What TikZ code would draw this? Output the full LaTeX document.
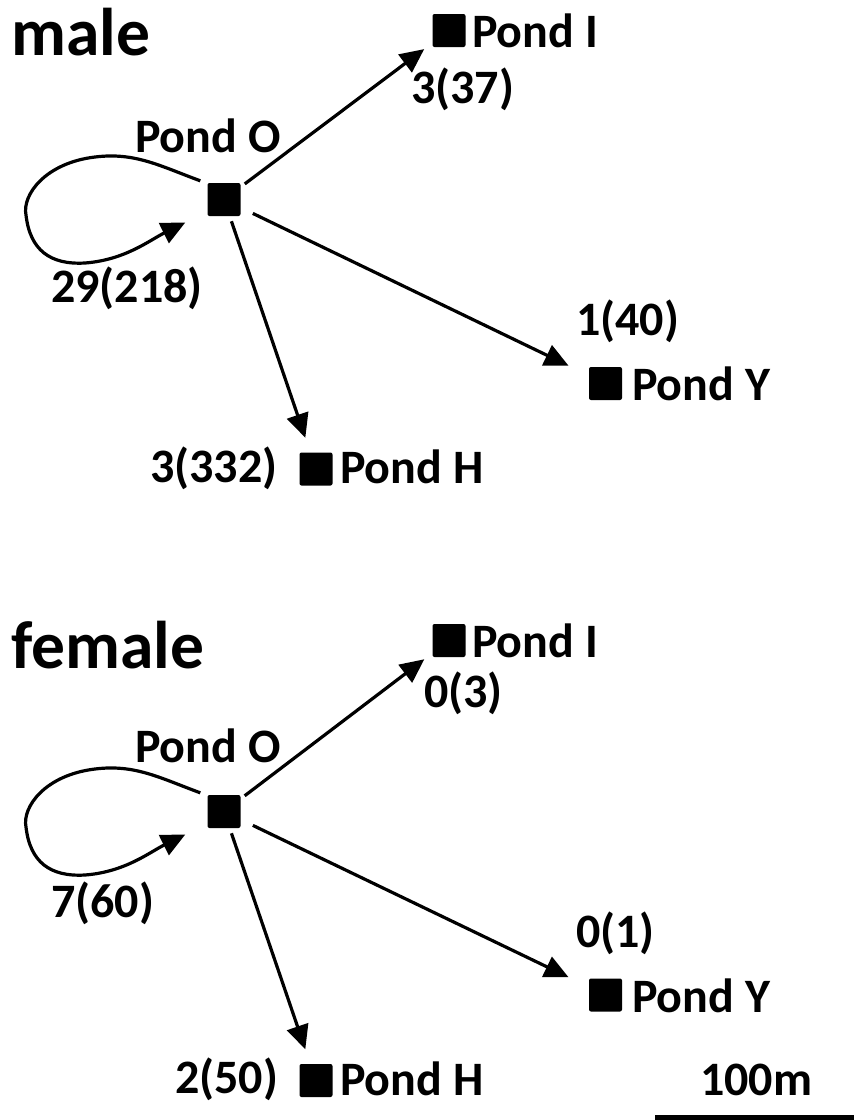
\documentclass[tikz,border=0pt]{standalone}
\usepackage{fontspec}
\setmainfont{Carlito}
\usetikzlibrary{arrows.meta}
\begin{document}
\begin{tikzpicture}[x=1pt,y=-1pt,
  pondbox/.style={fill=black, rounded corners=2pt, minimum size=33pt, inner sep=0pt},
  lbl/.style={anchor=base west, inner sep=0pt, font=\fontsize{48}{52}\selectfont\bfseries},
  grouptitle/.style={anchor=base west, inner sep=0pt, font=\fontsize{67.5}{72}\selectfont\bfseries},
  arr/.style={line width=3.2pt, -{Triangle[length=24pt,width=22pt]}},
  loopline/.style={line width=3.2pt, -{Triangle[length=24pt,width=22pt]}}]
\useasboundingbox (0,0) rectangle (854,1120);

% ---------------- male ----------------
\begin{scope}
  \node[grouptitle] (mT) at (11,55) {male};
  \node[pondbox] (mO) at (224,199.5) {};
  \node[pondbox] (mI) at (449,30.5) {};
  \node[pondbox] (mY) at (605.5,383.5) {};
  \node[pondbox] (mH) at (316,469) {};
  \node[lbl] (mOl) at (135,152) {Pond O};
  \node[lbl] (mIl) at (472,47) {Pond I};
  \node[lbl] (mYl) at (632,400) {Pond Y};
  \node[lbl] (mHl) at (340,483) {Pond H};
  \node[lbl] (mIn) at (411,103) {3(37)};
  \node[lbl] (mYn) at (576,335) {1(40)};
  \node[lbl] (mHn) at (150,482) {3(332)};
  \node[lbl] (mOn) at (51,302) {29(218)};
  \draw[arr, shorten <=26pt, shorten >=31pt] (mO.center) -- (mI.center);
  \draw[arr, shorten <=32pt, shorten >=41pt] (mO.center) -- (mY.center);
  \draw[arr, shorten <=23pt, shorten >=33pt] (mO.center) -- (mH.center);
  \draw[loopline] ([shift={(-7,-2)}]mO.north west)
      .. controls (160,166) and (135,152) .. (95,157)
      .. controls (45,163) and (22,195) .. (26,215)
      .. controls (30,250) and (50,265) .. (85,263)
      .. controls (125,260) and (150,240) .. ([shift={(-22,23)}]mO.west);
\end{scope}

% ---------------- female ----------------
\begin{scope}[shift={(0,612)}]
  \node[grouptitle] (fT) at (11,56) {female};
  \node[pondbox] (fO) at (224,199.5) {};
  \node[pondbox] (fI) at (449,28.5) {};
  \node[pondbox] (fY) at (605.5,383) {};
  \node[pondbox] (fH) at (316,468.5) {};
  \node[lbl] (fOl) at (135,150) {Pond O};
  \node[lbl] (fIl) at (472,45) {Pond I};
  \node[lbl] (fYl) at (632,400) {Pond Y};
  \node[lbl] (fHl) at (340,483) {Pond H};
  \node[lbl] (fIn) at (424,95) {0(3)};
  \node[lbl] (fYn) at (576,335) {0(1)};
  \node[lbl] (fHn) at (175,481) {2(50)};
  \node[lbl] (fOn) at (51,305) {7(60)};
  \draw[arr, shorten <=26pt, shorten >=31pt] (fO.center) -- (fI.center);
  \draw[arr, shorten <=32pt, shorten >=41pt] (fO.center) -- (fY.center);
  \draw[arr, shorten <=23pt, shorten >=33pt] (fO.center) -- (fH.center);
  \draw[loopline] ([shift={(-7,-2)}]fO.north west)
      .. controls (160,166) and (135,152) .. (95,157)
      .. controls (45,163) and (22,195) .. (26,215)
      .. controls (30,250) and (50,265) .. (85,263)
      .. controls (125,260) and (150,240) .. ([shift={(-22,23)}]fO.west);
\end{scope}

% ---------------- scale bar ----------------
\node[lbl] (sbl) at (700,1095) {100m};
\coordinate (sbA) at (655,1117.5);
\coordinate (sbB) at (854,1117.5);
\draw[line width=5pt] (sbA) -- (sbB);
\end{tikzpicture}
\end{document}
